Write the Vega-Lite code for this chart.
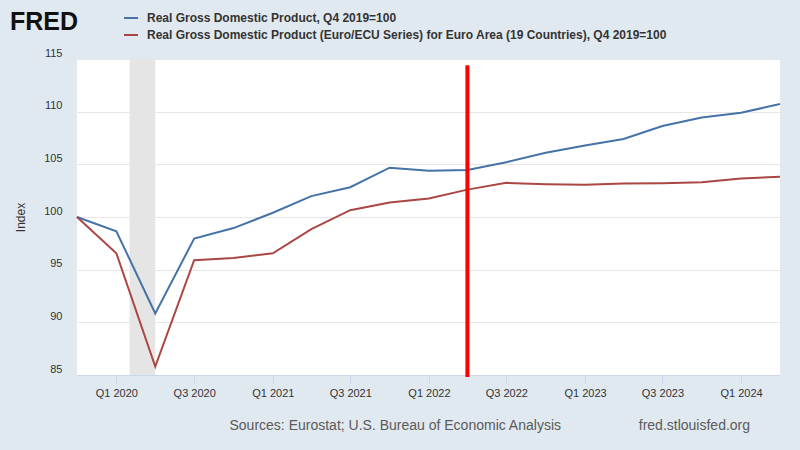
{
  "$schema": "https://vega.github.io/schema/vega-lite/v6.json",
  "width": 703,
  "height": 316,
  "autosize": {"type": "none"},
  "padding": {"left": 77, "top": 59, "right": 20, "bottom": 75},
  "background": "#e1e9f0",
  "config": {
    "font": "Liberation Sans",
    "view": {"fill": "white", "stroke": null},
    "axis": {"labelFont": "Liberation Sans", "titleFont": "Liberation Sans"}
  },
  "title": {
    "text": "FRED",
    "anchor": "start",
    "frame": "group",
    "font": "Liberation Sans",
    "fontSize": 25,
    "fontWeight": "bold",
    "color": "#111111",
    "dx": -67,
    "offset": 0,
    "dy": 25
  },
  "datasets": {
    "gdp": [
      {"date": "2019-10-01", "series": "Real Gross Domestic Product, Q4 2019=100", "value": 100.0},
      {"date": "2020-01-01", "series": "Real Gross Domestic Product, Q4 2019=100", "value": 98.65},
      {"date": "2020-04-01", "series": "Real Gross Domestic Product, Q4 2019=100", "value": 90.85},
      {"date": "2020-07-01", "series": "Real Gross Domestic Product, Q4 2019=100", "value": 97.95},
      {"date": "2020-10-01", "series": "Real Gross Domestic Product, Q4 2019=100", "value": 98.95},
      {"date": "2021-01-01", "series": "Real Gross Domestic Product, Q4 2019=100", "value": 100.4},
      {"date": "2021-04-01", "series": "Real Gross Domestic Product, Q4 2019=100", "value": 101.98},
      {"date": "2021-07-01", "series": "Real Gross Domestic Product, Q4 2019=100", "value": 102.83},
      {"date": "2021-10-01", "series": "Real Gross Domestic Product, Q4 2019=100", "value": 104.68},
      {"date": "2022-01-01", "series": "Real Gross Domestic Product, Q4 2019=100", "value": 104.4},
      {"date": "2022-04-01", "series": "Real Gross Domestic Product, Q4 2019=100", "value": 104.47},
      {"date": "2022-07-01", "series": "Real Gross Domestic Product, Q4 2019=100", "value": 105.2},
      {"date": "2022-10-01", "series": "Real Gross Domestic Product, Q4 2019=100", "value": 106.1},
      {"date": "2023-01-01", "series": "Real Gross Domestic Product, Q4 2019=100", "value": 106.78},
      {"date": "2023-04-01", "series": "Real Gross Domestic Product, Q4 2019=100", "value": 107.4},
      {"date": "2023-07-01", "series": "Real Gross Domestic Product, Q4 2019=100", "value": 108.64},
      {"date": "2023-10-01", "series": "Real Gross Domestic Product, Q4 2019=100", "value": 109.45},
      {"date": "2024-01-01", "series": "Real Gross Domestic Product, Q4 2019=100", "value": 109.9},
      {"date": "2024-04-01", "series": "Real Gross Domestic Product, Q4 2019=100", "value": 110.72},
      {"date": "2019-10-01", "series": "Real Gross Domestic Product (Euro/ECU Series) for Euro Area (19 Countries), Q4 2019=100", "value": 100.0},
      {"date": "2020-01-01", "series": "Real Gross Domestic Product (Euro/ECU Series) for Euro Area (19 Countries), Q4 2019=100", "value": 96.56},
      {"date": "2020-04-01", "series": "Real Gross Domestic Product (Euro/ECU Series) for Euro Area (19 Countries), Q4 2019=100", "value": 85.8},
      {"date": "2020-07-01", "series": "Real Gross Domestic Product (Euro/ECU Series) for Euro Area (19 Countries), Q4 2019=100", "value": 95.9},
      {"date": "2020-10-01", "series": "Real Gross Domestic Product (Euro/ECU Series) for Euro Area (19 Countries), Q4 2019=100", "value": 96.1},
      {"date": "2021-01-01", "series": "Real Gross Domestic Product (Euro/ECU Series) for Euro Area (19 Countries), Q4 2019=100", "value": 96.56},
      {"date": "2021-04-01", "series": "Real Gross Domestic Product (Euro/ECU Series) for Euro Area (19 Countries), Q4 2019=100", "value": 98.84},
      {"date": "2021-07-01", "series": "Real Gross Domestic Product (Euro/ECU Series) for Euro Area (19 Countries), Q4 2019=100", "value": 100.65},
      {"date": "2021-10-01", "series": "Real Gross Domestic Product (Euro/ECU Series) for Euro Area (19 Countries), Q4 2019=100", "value": 101.38},
      {"date": "2022-01-01", "series": "Real Gross Domestic Product (Euro/ECU Series) for Euro Area (19 Countries), Q4 2019=100", "value": 101.76},
      {"date": "2022-04-01", "series": "Real Gross Domestic Product (Euro/ECU Series) for Euro Area (19 Countries), Q4 2019=100", "value": 102.6},
      {"date": "2022-07-01", "series": "Real Gross Domestic Product (Euro/ECU Series) for Euro Area (19 Countries), Q4 2019=100", "value": 103.24},
      {"date": "2022-10-01", "series": "Real Gross Domestic Product (Euro/ECU Series) for Euro Area (19 Countries), Q4 2019=100", "value": 103.12},
      {"date": "2023-01-01", "series": "Real Gross Domestic Product (Euro/ECU Series) for Euro Area (19 Countries), Q4 2019=100", "value": 103.07},
      {"date": "2023-04-01", "series": "Real Gross Domestic Product (Euro/ECU Series) for Euro Area (19 Countries), Q4 2019=100", "value": 103.17},
      {"date": "2023-07-01", "series": "Real Gross Domestic Product (Euro/ECU Series) for Euro Area (19 Countries), Q4 2019=100", "value": 103.21},
      {"date": "2023-10-01", "series": "Real Gross Domestic Product (Euro/ECU Series) for Euro Area (19 Countries), Q4 2019=100", "value": 103.3},
      {"date": "2024-01-01", "series": "Real Gross Domestic Product (Euro/ECU Series) for Euro Area (19 Countries), Q4 2019=100", "value": 103.66},
      {"date": "2024-04-01", "series": "Real Gross Domestic Product (Euro/ECU Series) for Euro Area (19 Countries), Q4 2019=100", "value": 103.81}
    ],
    "recession": [{"start": "2020-02-01", "end": "2020-04-01"}],
    "marker": [{"date": "2022-04-01", "low": 84.8, "high": 114.4}]
  },
  "layer": [
    {
      "data": {"name": "recession"},
      "mark": {"type": "rect", "color": "#e5e5e5"},
      "encoding": {
        "x": {"field": "start", "type": "temporal"},
        "x2": {"field": "end"}
      }
    },
    {
      "data": {"name": "gdp"},
      "mark": {"type": "line", "strokeWidth": 2},
      "encoding": {
        "x": {
          "field": "date",
          "type": "temporal",
          "scale": {"type": "utc", "domain": [{"year": 2019, "month": 10, "date": 1, "utc": true}, {"year": 2024, "month": 4, "date": 1, "utc": true}]},
          "axis": {
            "title": "Sources: Eurostat; U.S. Bureau of Economic Analysis\u00a0\u00a0\u00a0\u00a0\u00a0\u00a0\u00a0\u00a0\u00a0\u00a0\u00a0\u00a0\u00a0\u00a0\u00a0\u00a0\u00a0\u00a0\u00a0\u00a0fred.stlouisfed.org",
            "titleX": 152,
            "titleY": 50,
            "titleAlign": "left",
            "titleBaseline": "middle",
            "titleFontSize": 14,
            "titleFontWeight": "normal",
            "titleColor": "#5a5a5a",
            "values": [
              {"year": 2020, "month": 1, "date": 1, "utc": true},
              {"year": 2020, "month": 7, "date": 1, "utc": true},
              {"year": 2021, "month": 1, "date": 1, "utc": true},
              {"year": 2021, "month": 7, "date": 1, "utc": true},
              {"year": 2022, "month": 1, "date": 1, "utc": true},
              {"year": 2022, "month": 7, "date": 1, "utc": true},
              {"year": 2023, "month": 1, "date": 1, "utc": true},
              {"year": 2023, "month": 7, "date": 1, "utc": true},
              {"year": 2024, "month": 1, "date": 1, "utc": true}
            ],
            "format": "Q%q %Y",
            "labelFontSize": 11,
            "labelColor": "#333333",
            "labelPadding": 4,
            "tickSize": 8,
            "tickColor": "#ccd6eb",
            "domainColor": "#ccd6eb",
            "grid": false
          }
        },
        "y": {
          "field": "value",
          "type": "quantitative",
          "scale": {"domain": [85, 115], "nice": false, "zero": false},
          "axis": {
            "title": "Index",
            "titleX": -57,
            "titleY": 158,
            "titleAlign": "center",
            "titleBaseline": "middle",
            "titleFontSize": 12,
            "titleFontWeight": "normal",
            "titleColor": "#333333",
            "values": [85, 90, 95, 100, 105, 110, 115],
            "labelFontSize": 11,
            "labelColor": "#333333",
            "labelPadding": 15,
            "labelOffset": -6,
            "ticks": false,
            "domain": false,
            "gridColor": "#e6e6e6"
          }
        },
        "color": {
          "field": "series",
          "type": "nominal",
          "scale": {
            "domain": ["Real Gross Domestic Product, Q4 2019=100", "Real Gross Domestic Product (Euro/ECU Series) for Euro Area (19 Countries), Q4 2019=100"],
            "range": ["#4572a7", "#aa4643"]
          },
          "legend": {
            "orient": "none",
            "legendX": 46,
            "legendY": -49,
            "title": null,
            "symbolType": "stroke",
            "symbolSize": 196,
            "symbolStrokeWidth": 2,
            "labelFont": "Liberation Sans",
            "labelFontSize": 12,
            "labelFontWeight": "bold",
            "labelColor": "#333333",
            "labelLimit": 0,
            "labelOffset": 8,
            "rowPadding": 3,
            "padding": 0
          }
        }
      }
    },
    {
      "data": {"name": "marker"},
      "mark": {"type": "rule", "color": "#ff0000", "strokeWidth": 4},
      "encoding": {
        "x": {"field": "date", "type": "temporal"},
        "y": {"field": "low", "type": "quantitative"},
        "y2": {"field": "high"}
      }
    }
  ]
}
